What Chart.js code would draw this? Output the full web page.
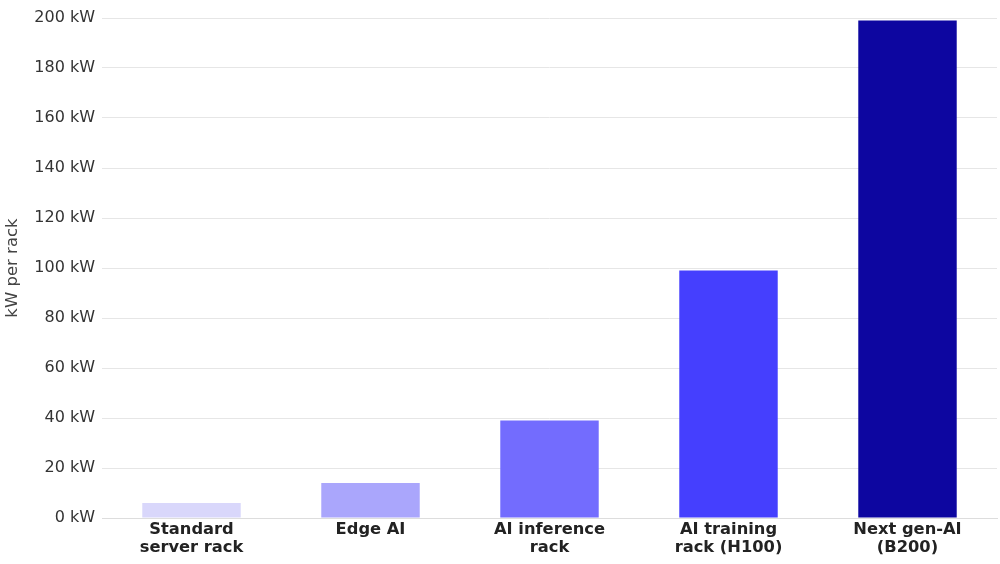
<!DOCTYPE html>
<html><head><meta charset="utf-8">
<script src="https://cdn.jsdelivr.net/npm/chart.js@4/dist/chart.umd.min.js"></script>
<style>html,body{margin:0;padding:0;background:#fff;}canvas{display:block;}</style>
</head><body>
<canvas id="c" width="1000" height="564"></canvas>
<script>
const categories = [["Standard","server rack"],["Edge AI"],["AI inference","rack"],["AI training","rack (H100)"],["Next gen-AI","(B200)"]];
const values = [6, 14, 39, 99, 199];
const barColors = ["#d9d7fb","#aaa6fc","#736cfe","#453ffe","#0d06a0"];
const yTicks = [0,20,40,60,80,100,120,140,160,180,200];
const yTitle = "kW per rack";

new Chart(document.getElementById('c'), {
  type: 'bar',
  data: { labels: categories, datasets: [{ data: values, backgroundColor: barColors, borderWidth: 0, barPercentage: 0.55, categoryPercentage: 1.0 }] },
  options: {
    responsive: false, animation: false,
    layout: { padding: { top: 18, right: 3, left: 0, bottom: 0 } },
    plugins: { legend: { display: false }, tooltip: { enabled: false } },
    scales: {
      x: {
        grid: { display: false },
        border: { display: true, color: '#dddddd', width: 1 },
        ticks: { color: '#222222', font: { family: 'DejaVu Sans', size: 16.3, weight: 'bold', lineHeight: 1.1 }, padding: -5, maxRotation: 0, autoSkip: false },
        afterFit: s => { s.height = 46; }
      },
      y: {
        min: 0, max: 200,
        afterBuildTicks: s => { s.ticks = yTicks.map(v => ({ value: v })); },
        grid: { color: '#e6e6e6', drawTicks: false, lineWidth: 1 },
        border: { display: false },
        ticks: { color: '#333333', font: { family: 'DejaVu Sans', size: 16 }, padding: 7, callback: v => v + ' kW' },
        title: { display: true, text: yTitle, color: '#444444', font: { family: 'DejaVu Sans', size: 16.5 }, padding: { top: 3, bottom: 0 } },
        afterFit: s => { s.width = 102; }
      }
    }
  }
});
</script>
</body></html>
